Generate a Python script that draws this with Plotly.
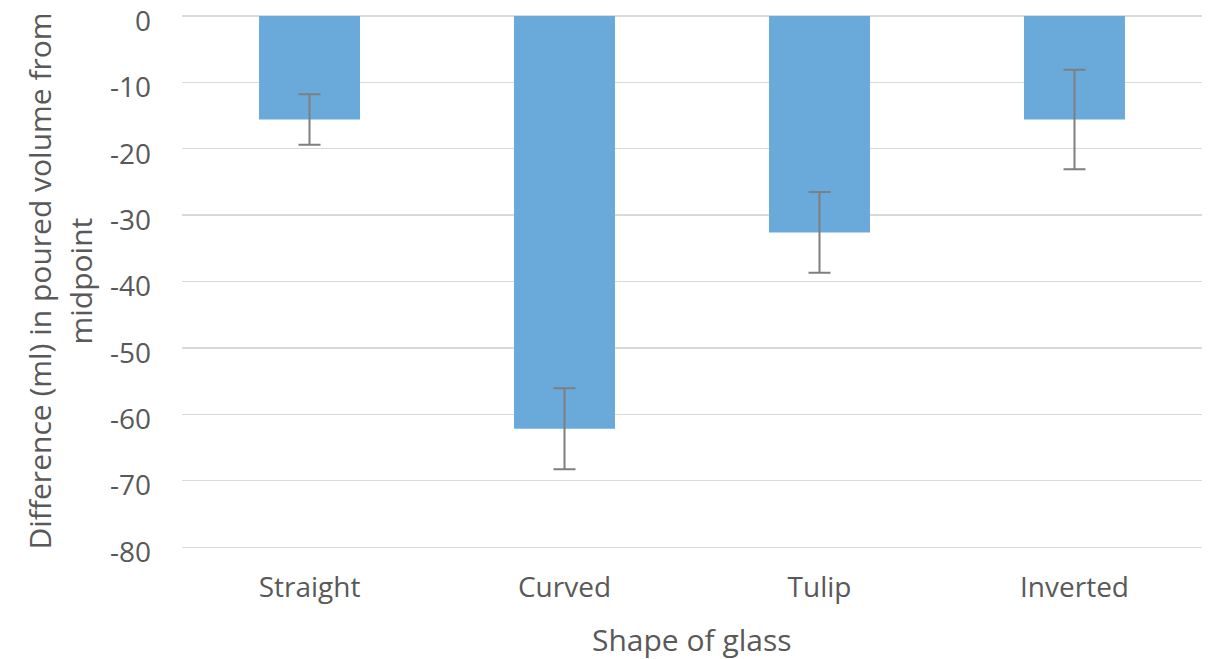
import plotly.graph_objects as go

categories = ["Straight", "Curved", "Tulip", "Inverted"]
values = [-15.6, -62.2, -32.6, -15.6]
errors = [3.8, 6.1, 6.1, 7.5]
y_ticks = [0, -10, -20, -30, -40, -50, -60, -70, -80]
y_tick_text = ["0", "-10", "-20", "-30", "-40", "-50", "-60", "-70", "-80"]
y_title_lines = ["Difference (ml) in poured volume from", "midpoint"]
x_title = "Shape of glass"

font = "Open Sans"
grey = "#595959"
W, H = 1223, 659
L, R, T, B = 182, 21, 16, 112
pw = W - L - R
ph = H - T - B
plot_left = L
plot_bottom = T + ph

fig = go.Figure()
fig.add_trace(go.Bar(
    x=categories, y=values,
    marker=dict(color="#6AAADB", line=dict(width=0)),
    error_y=dict(type="data", array=errors, visible=True,
                 color="#7F7F7F", thickness=2, width=11),
    hoverinfo="skip",
))
fig.update_layout(
    width=W, height=H,
    margin=dict(l=L, r=R, t=T, b=B, autoexpand=False),
    paper_bgcolor="white", plot_bgcolor="white",
    bargap=0.604, showlegend=False, hovermode=False,
    font=dict(family=font, size=28, color=grey),
    xaxis=dict(
        showgrid=False, showline=True, linecolor="#D9D9D9", linewidth=1.3,
        ticks="", automargin=False, ticklabelstandoff=15,
        tickfont=dict(size=28, color=grey),
    ),
    yaxis=dict(
        range=[-80, 0], tickvals=y_ticks, ticktext=y_tick_text,
        showgrid=True, gridcolor="#D9D9D9", gridwidth=1.3,
        zeroline=True, zerolinecolor="#D9D9D9", zerolinewidth=1.3,
        showline=False, ticks="", automargin=False, ticklabelstandoff=30,
        ticklabelshift=5, ticklabeloverflow="allow",
        tickfont=dict(size=28, color=grey),
    ),
)
# axis titles
fig.add_annotation(text=y_title_lines[0], textangle=-90, showarrow=False,
                   xref="paper", yref="paper", x=(39 - plot_left) / pw, y=0.5,
                   xanchor="center", yanchor="middle",
                   font=dict(size=30, color=grey, family=font))
fig.add_annotation(text=y_title_lines[1], textangle=-90, showarrow=False,
                   xref="paper", yref="paper", x=(80 - plot_left) / pw, y=0.5,
                   xanchor="center", yanchor="middle",
                   font=dict(size=30, color=grey, family=font))
fig.add_annotation(text=x_title, showarrow=False,
                   xref="paper", yref="paper", x=0.5,
                   y=-(639 - plot_bottom) / ph,
                   xanchor="center", yanchor="middle",
                   font=dict(size=30, color=grey, family=font))
fig.write_html("out.html", config={"displayModeBar": False, "staticPlot": True},
               post_script="document.body.style.margin='0';document.body.style.overflow='hidden';")
